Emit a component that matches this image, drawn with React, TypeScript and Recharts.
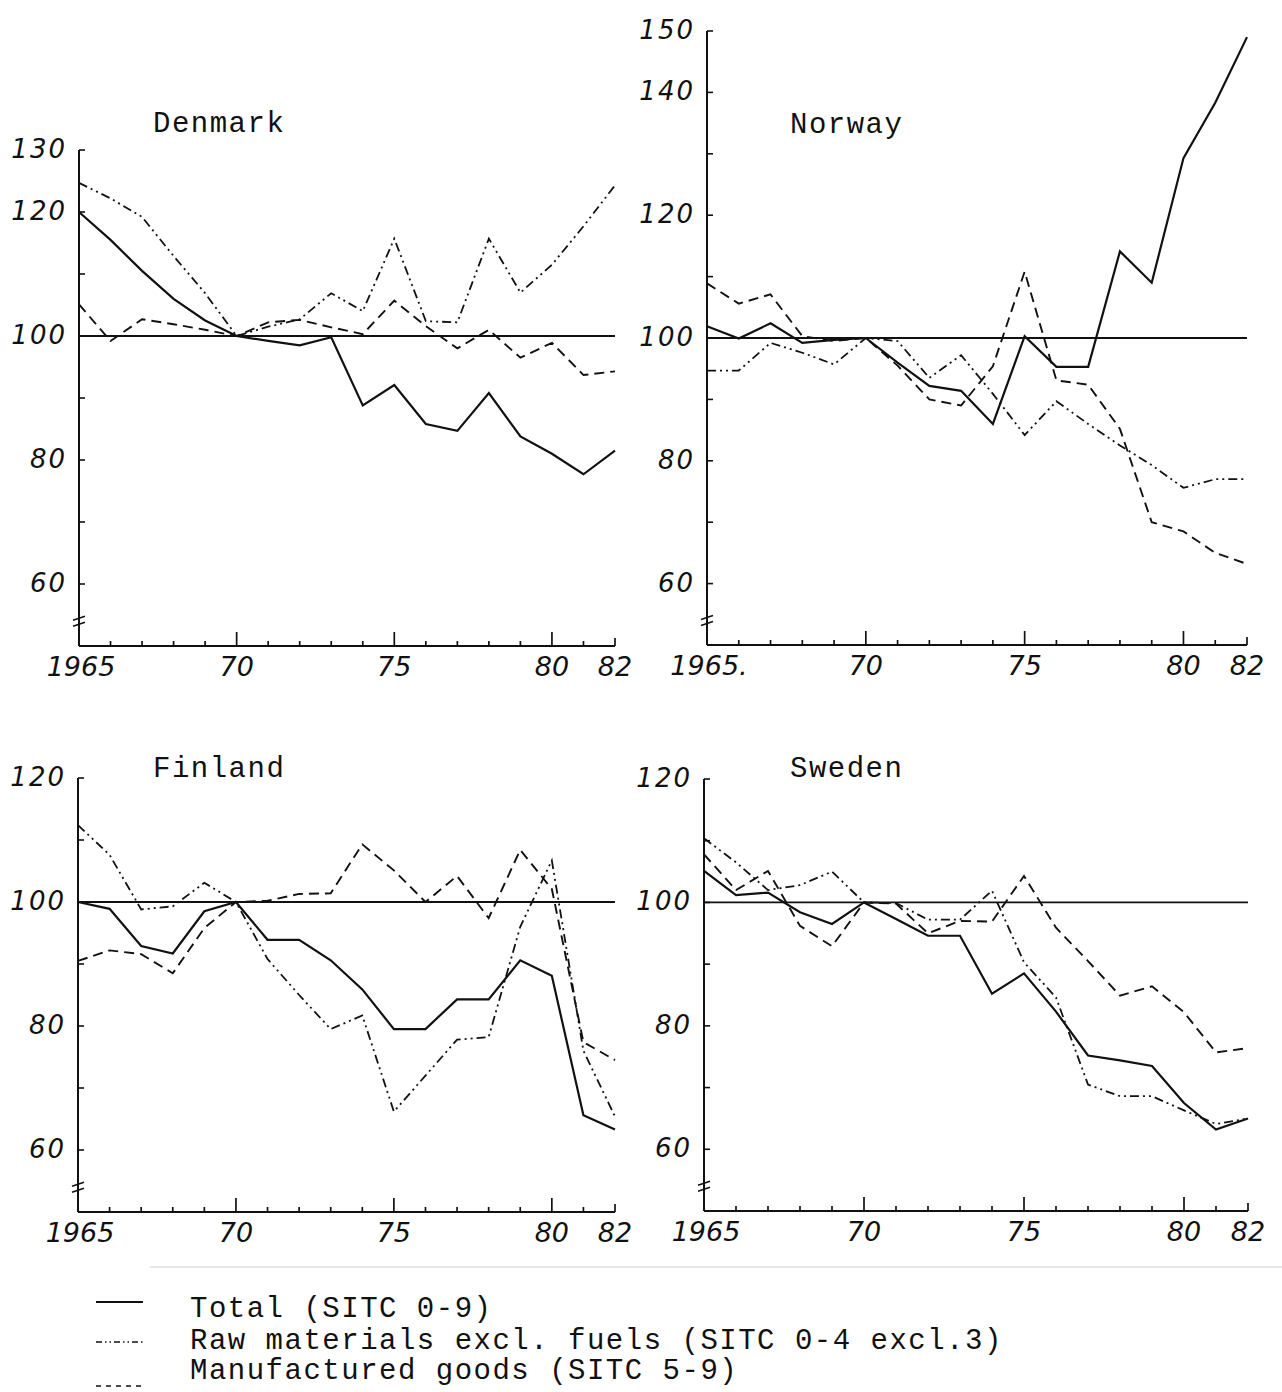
import React from "react";
import { LineChart, Line, XAxis, YAxis, ReferenceLine } from "recharts";

// index numbers, 1970 = 100
const YEARS = [
  1965, 1966, 1967, 1968, 1969, 1970, 1971, 1972, 1973, 1974, 1975, 1976, 1977,
  1978, 1979, 1980, 1981, 1982,
];

const DENMARK_TOTAL = [120, 115.5, 110.5, 106, 102.5, 100, 99.2, 98.5, 99.8, 88.8, 92.1, 85.8, 84.7, 90.8, 83.8, 81, 77.7, 81.5];
const DENMARK_RAW = [124.7, 122.2, 119.2, 112.9, 106.9, 100, 101.5, 102.7, 106.9, 104, 115.7, 102.4, 102.2, 115.7, 107, 111.5, 117.7, 124.3];
const DENMARK_MANUF = [105.1, 99.2, 102.7, 101.9, 101, 100, 102.2, 102.6, 101.4, 100.3, 105.7, 101.6, 98, 101, 96.5, 98.9, 93.7, 94.3];

const NORWAY_TOTAL = [101.9, 99.9, 102.4, 99.2, 99.7, 100, 96, 92.2, 91.4, 86, 100.3, 95.3, 95.3, 114.1, 109, 129.3, 138.3, 149];
const NORWAY_RAW = [94.7, 94.7, 99.2, 97.6, 95.7, 100, 99.5, 93.5, 97.2, 90.9, 84.2, 89.7, 86, 82.5, 79.3, 75.6, 77, 77];
const NORWAY_MANUF = [108.9, 105.6, 107.1, 100.3, 99.5, 100, 95.5, 90, 89, 95.4, 110.8, 93.1, 92.4, 85.2, 70, 68.5, 65, 63.2];

const FINLAND_TOTAL = [100, 98.9, 92.9, 91.7, 98.5, 100, 93.9, 93.9, 90.6, 85.9, 79.5, 79.5, 84.3, 84.3, 90.6, 88.1, 65.6, 63.3];
const FINLAND_RAW = [112.4, 107.6, 98.8, 99.3, 103.1, 100, 90.8, 85, 79.5, 81.7, 66.2, 72, 77.8, 78.2, 96, 106.7, 76, 65.4];
const FINLAND_MANUF = [90.5, 92.2, 91.6, 88.5, 95.8, 100, 100.2, 101.3, 101.4, 109.3, 105.1, 100, 104.2, 97.4, 108.4, 102.1, 77.4, 74.5];

const SWEDEN_TOTAL = [105.1, 101.2, 101.6, 98.4, 96.5, 100, 97.3, 94.6, 94.6, 85.2, 88.5, 82.3, 75.2, 74.4, 73.5, 67.5, 63.2, 65];
const SWEDEN_RAW = [110.4, 106.5, 102, 102.8, 105, 100, 99.9, 97.2, 97.2, 101.9, 90.3, 84.6, 70.5, 68.6, 68.6, 66.3, 64.1, 65];
const SWEDEN_MANUF = [107.8, 102, 105.1, 96.2, 92.9, 100, 99.8, 95, 97, 96.9, 104.3, 95.9, 90.5, 84.9, 86.4, 82.2, 75.7, 76.4];

const X_LABEL_YEARS = [1965, 1970, 1975, 1980, 1982];
const X_LABELS = ["1965", "70", "75", "80", "82"];
const X_LABELS_NORWAY = ["1965.", "70", "75", "80", "82"];
const MAJOR_YEARS = [1970, 1975, 1980];

const Y_TICKS_120 = [60, 70, 80, 90, 100, 110, 120];
const Y_TICKS_130 = [60, 70, 80, 90, 100, 110, 120, 130];
const Y_TICKS_150 = [60, 70, 80, 90, 100, 110, 120, 130, 140, 150];
const DENMARK_Y_LABELS = [60, 80, 100, 120, 130];
const NORWAY_Y_LABELS = [60, 80, 100, 120, 140, 150];
const FINLAND_Y_LABELS = [60, 80, 100, 120];
const SWEDEN_Y_LABELS = [60, 80, 100, 120];
const AXIS_BREAK = 54;

const INK = "#111";
const HAND = "'DejaVu Sans', sans-serif";
const TYPE = "'Courier New', 'Liberation Mono', monospace";

function XTick(props: any) {
  const { x, y, payload, labels } = props;
  const v = payload.value;
  const len = MAJOR_YEARS.includes(v) ? 14 : v === 1982 ? 8 : 5;
  const i = X_LABEL_YEARS.indexOf(v);
  return (
    <g>
      {v !== 1965 && <line x1={x} x2={x} y1={y} y2={y - len} stroke={INK} strokeWidth={1.7} />}
      {i >= 0 && (
        <text
          x={x + (v === 1965 ? 2 : 0)}
          y={y + 30}
          textAnchor="middle"
          fontFamily={HAND}
          fontStyle="italic"
          fontWeight={200}
          fontSize={27}
          fill={INK}
        >
          {labels[i]}
        </text>
      )}
    </g>
  );
}

function YTick(props: any) {
  const { x, y, payload, labels } = props;
  const v = payload.value;
  if (v === AXIS_BREAK) {
    return (
      <g stroke={INK} strokeWidth={1.7}>
        <line x1={x - 6} y1={y - 1} x2={x + 6} y2={y - 5} />
        <line x1={x - 6} y1={y + 5} x2={x + 6} y2={y + 1} />
      </g>
    );
  }
  return (
    <g>
      <line x1={x} x2={x + 6} y1={y} y2={y} stroke={INK} strokeWidth={1.6} />
      {labels.includes(v) && (
        <text
          x={x - 12}
          y={y + 8}
          textAnchor="end"
          fontFamily={HAND}
          fontStyle="italic"
          fontWeight={200}
          fontSize={26}
          letterSpacing={2}
          fill={INK}
        >
          {v}
        </text>
      )}
    </g>
  );
}

interface PanelProps {
  total: number[];
  raw: number[];
  manuf: number[];
  top: number;
  yTicks: number[];
  yLabels: number[];
  xLabels: string[];
  left: number;
  topPx: number;
  width: number;
  height: number;
  margin: { top: number; right: number; bottom: number; left: number };
  xAxisHeight: number;
}

function Panel(p: PanelProps) {
  const data = YEARS.map((year, i) => ({
    year,
    total: p.total[i],
    raw: p.raw[i],
    manuf: p.manuf[i],
  }));
  return (
    <div style={{ position: "absolute", left: p.left, top: p.topPx }}>
      <LineChart width={p.width} height={p.height} data={data} margin={p.margin}>
        <XAxis
          type="number"
          dataKey="year"
          domain={[1965, 1982]}
          ticks={YEARS}
          interval={0}
          height={p.xAxisHeight}
          tickSize={0}
          tickMargin={0}
          tickLine={false}
          axisLine={{ stroke: INK, strokeWidth: 2 }}
          tick={(t: any) => <XTick {...t} labels={p.xLabels} />}
        />
        <YAxis
          type="number"
          domain={[50, p.top]}
          ticks={[AXIS_BREAK, ...p.yTicks]}
          interval={0}
          width={59}
          tickSize={0}
          tickMargin={0}
          tickLine={false}
          axisLine={{ stroke: INK, strokeWidth: 2 }}
          tick={(t: any) => <YTick {...t} labels={p.yLabels} />}
        />
        <ReferenceLine y={100} stroke={INK} strokeWidth={1.8} />
        <Line type="linear" dataKey="total" stroke={INK} strokeWidth={2.2} dot={false} isAnimationActive={false} />
        <Line
          type="linear"
          dataKey="raw"
          stroke={INK}
          strokeWidth={1.8}
          strokeDasharray="9 4 2 4 2 4"
          dot={false}
          isAnimationActive={false}
        />
        <Line
          type="linear"
          dataKey="manuf"
          stroke={INK}
          strokeWidth={1.9}
          strokeDasharray="10 6"
          dot={false}
          isAnimationActive={false}
        />
      </LineChart>
    </div>
  );
}

const textStyle = {
  fontFamily: TYPE,
  fontSize: 29,
  letterSpacing: 1.5,
  fill: INK,
};

export default function App() {
  return (
    <div style={{ position: "absolute", left: 0, top: 0, width: 1282, height: 1392, background: "#fff", overflow: "hidden" }}>
      <Panel
        total={DENMARK_TOTAL}
        raw={DENMARK_RAW}
        manuf={DENMARK_MANUF}
        top={130}
        yTicks={Y_TICKS_130}
        yLabels={DENMARK_Y_LABELS}
        xLabels={X_LABELS}
        left={0}
        topPx={0}
        width={640}
        height={700}
        margin={{ top: 150, right: 25, bottom: 4, left: 20 }}
        xAxisHeight={50}
      />
      <Panel
        total={NORWAY_TOTAL}
        raw={NORWAY_RAW}
        manuf={NORWAY_MANUF}
        top={150}
        yTicks={Y_TICKS_150}
        yLabels={NORWAY_Y_LABELS}
        xLabels={X_LABELS_NORWAY}
        left={625}
        topPx={0}
        width={657}
        height={700}
        margin={{ top: 31, right: 35, bottom: 5, left: 23 }}
        xAxisHeight={50}
      />
      <Panel
        total={FINLAND_TOTAL}
        raw={FINLAND_RAW}
        manuf={FINLAND_MANUF}
        top={120}
        yTicks={Y_TICKS_120}
        yLabels={FINLAND_Y_LABELS}
        xLabels={X_LABELS}
        left={0}
        topPx={700}
        width={640}
        height={560}
        margin={{ top: 78, right: 25, bottom: 4, left: 19 }}
        xAxisHeight={44}
      />
      <Panel
        total={SWEDEN_TOTAL}
        raw={SWEDEN_RAW}
        manuf={SWEDEN_MANUF}
        top={120}
        yTicks={Y_TICKS_120}
        yLabels={SWEDEN_Y_LABELS}
        xLabels={X_LABELS}
        left={625}
        topPx={700}
        width={657}
        height={560}
        margin={{ top: 79, right: 34, bottom: 5, left: 20 }}
        xAxisHeight={44}
      />
      {/* titles and key */}
      <svg width={1282} height={1392} style={{ position: "absolute", left: 0, top: 0, pointerEvents: "none" }}>
        <text x={153} y={132} {...textStyle}>Denmark</text>
        <text x={790} y={133} {...textStyle}>Norway</text>
        <text x={153} y={777} {...textStyle}>Finland</text>
        <text x={790} y={777} {...textStyle}>Sweden</text>
        <line x1={150} x2={1282} y1={1267} y2={1267} stroke="#cfcfcf" strokeWidth={1} />
        <line x1={96} x2={143} y1={1302} y2={1302} stroke={INK} strokeWidth={1.8} />
        <line x1={96} x2={143} y1={1342} y2={1342} stroke={INK} strokeWidth={1.6} strokeDasharray="6 3 1.5 3 1.5 3" />
        <line x1={96} x2={143} y1={1386} y2={1386} stroke={INK} strokeWidth={1.7} strokeDasharray="5 5" />
        <text x={190} y={1317} {...textStyle}>Total (SITC 0-9)</text>
        <text x={190} y={1349} {...textStyle}>Raw materials excl. fuels (SITC 0-4 excl.3)</text>
        <text x={190} y={1379} {...textStyle}>Manufactured goods (SITC 5-9)</text>
      </svg>
    </div>
  );
}
